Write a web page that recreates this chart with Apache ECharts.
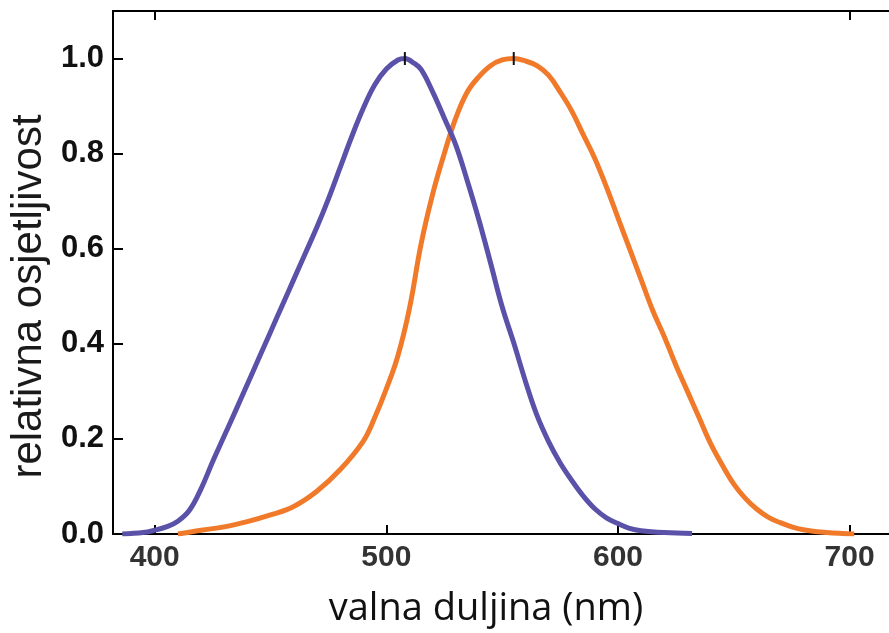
<!DOCTYPE html>
<html>
<head>
<meta charset="utf-8">
<script src="https://cdn.jsdelivr.net/npm/echarts@6/dist/echarts.min.js"></script>
<style>
  html, body { margin: 0; padding: 0; background: #fff; }
  #chart { width: 889px; height: 633px; }
</style>
</head>
<body>
<div id="chart"></div>
<script>
// valna duljina (nm) i relativna osjetljivost, očitano sa slike
const blueNm = [386, 395, 400, 405, 410, 415, 420, 425, 430, 435, 440, 445, 450, 455, 460, 465, 470, 475, 480, 485, 490, 495, 500, 505, 508, 512, 515, 520, 525, 530, 535, 540, 545, 550, 555, 560, 565, 570, 575, 580, 585, 590, 595, 600, 605, 610, 620, 632]
const blueVal = [0, 0.003, 0.008, 0.015, 0.027, 0.05, 0.095, 0.152, 0.206, 0.26, 0.315, 0.37, 0.425, 0.48, 0.535, 0.59, 0.645, 0.705, 0.77, 0.835, 0.895, 0.945, 0.978, 0.997, 1.0, 0.99, 0.977, 0.93, 0.875, 0.818, 0.742, 0.66, 0.57, 0.478, 0.402, 0.322, 0.25, 0.195, 0.15, 0.113, 0.08, 0.053, 0.034, 0.022, 0.012, 0.007, 0.003, 0.001]

const orangeNm = [410, 420, 430, 440, 450, 460, 470, 480, 490, 495, 500, 505, 510, 515, 520, 525, 530, 535, 540, 545, 550, 555, 560, 565, 570, 575, 580, 585, 590, 595, 600, 605, 610, 615, 620, 625, 630, 635, 640, 645, 650, 655, 660, 665, 670, 675, 680, 690, 702]
const orangeVal = [0, 0.008, 0.015, 0.026, 0.04, 0.058, 0.09, 0.135, 0.195, 0.245, 0.305, 0.375, 0.475, 0.61, 0.715, 0.8, 0.875, 0.93, 0.962, 0.985, 0.997, 1.0, 0.995, 0.985, 0.965, 0.93, 0.89, 0.84, 0.79, 0.73, 0.665, 0.6, 0.535, 0.47, 0.415, 0.355, 0.3, 0.245, 0.19, 0.145, 0.105, 0.075, 0.052, 0.035, 0.024, 0.015, 0.009, 0.003, 0]

const xTicks = [400, 500, 600, 700]
const yTicks = [0, 0.2, 0.4, 0.6, 0.8, 1.0]

const chart = echarts.init(document.getElementById('chart'))

const zip = (xs, ys) => xs.map((x, i) => [x, ys[i]])

// mala crtica na vrhu krivulje
const peakMark = {
  symbol: 'rect',
  symbolSize: [2, 13],
  itemStyle: { color: '#111' },
  label: { show: false },
  data: [{ type: 'max' }]
}

chart.setOption({
  animation: false,
  grid: {
    left: 113,
    right: -4,
    top: 11,
    bottom: 97
  },
  xAxis: [{
    type: 'value',
    min: 382,
    max: 717,
    position: 'bottom',
    name: 'valna duljina (nm)',
    nameLocation: 'middle',
    nameGap: 56,
    nameTextStyle: {
      fontFamily: 'Open Sans',
      fontSize: 38,
      color: '#111',
      padding: [0, 30, 0, 0]
    },
    axisLine: { lineStyle: { color: '#000', width: 2 } },
    axisTick: {
      inside: true,
      length: 9,
      customValues: xTicks,
      lineStyle: { color: '#000', width: 2 }
    },
    axisLabel: {
      customValues: xTicks,
      margin: 9,
      fontFamily: 'Liberation Sans',
      fontWeight: 'bold',
      fontSize: 30,
      color: '#333'
    },
    splitLine: { show: false }
  }, {
    type: 'value',
    min: 382,
    max: 717,
    position: 'top',
    axisLine: { lineStyle: { color: '#000', width: 2 } },
    axisTick: {
      inside: true,
      length: 9,
      customValues: [400, 700],
      lineStyle: { color: '#000', width: 2 }
    },
    axisLabel: { show: false },
    splitLine: { show: false }
  }],
  yAxis: {
    type: 'value',
    min: 0,
    max: 1.1,
    name: 'relativna osjetljivost',
    nameLocation: 'middle',
    nameRotate: 90,
    nameGap: 58,
    nameTextStyle: {
      fontFamily: 'Liberation Sans',
      fontSize: 42,
      color: '#1a1a1a',
      padding: [0, 48, 0, 0]
    },
    axisLine: { show: true, lineStyle: { color: '#000', width: 2 } },
    axisTick: {
      inside: true,
      length: 10,
      customValues: yTicks,
      lineStyle: { color: '#000', width: 2 }
    },
    axisLabel: {
      customValues: yTicks,
      margin: 9,
      fontFamily: 'Liberation Sans',
      fontWeight: 'bold',
      fontSize: 31,
      color: '#111',
      formatter: v => v.toFixed(1)
    },
    splitLine: { show: false }
  },
  series: [{
    type: 'line',
    data: zip(blueNm, blueVal),
    smooth: 0.4,
    showSymbol: false,
    lineStyle: { color: '#5a51a8', width: 5 },
    markPoint: peakMark,
    z: 3
  }, {
    type: 'line',
    data: zip(orangeNm, orangeVal),
    smooth: 0.4,
    showSymbol: false,
    lineStyle: { color: '#f07a2a', width: 5 },
    markPoint: peakMark,
    z: 2
  }]
})
</script>
</body>
</html>
